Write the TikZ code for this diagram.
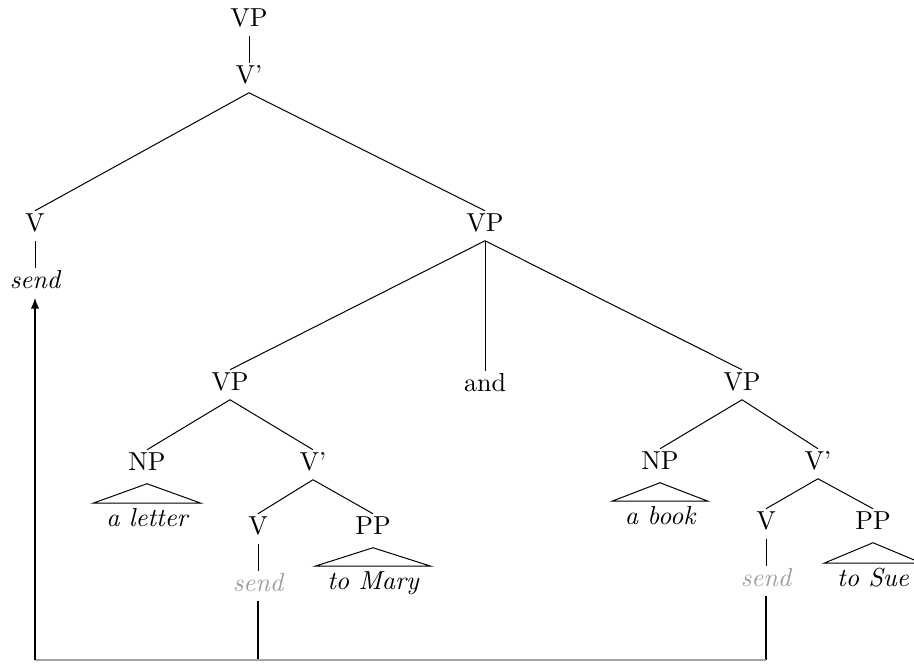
\documentclass[tikz,border=0pt]{standalone}
\usetikzlibrary{arrows.meta}
\begin{document}
\begin{tikzpicture}[x=0.4pt,y=-0.4pt,
  every node/.style={anchor=base,inner sep=1pt,outer sep=0pt,text height=0.75em,text depth=0.25em,font=\fontsize{10.4}{12}\selectfont},
  cat/.style={},
  word/.style={font=\fontsize{10.4}{12}\selectfont\itshape},
  trace/.style={word,text=black!38},
  edge/.style={draw=black,line width=0.4pt},
  tri/.style={draw=black,line width=0.4pt},
  move/.style={draw=black,line width=0.6pt},
  bar/.style={draw=black!75,double=black!35,line width=0.3pt,double distance=0.5pt}]
\useasboundingbox (0,0) rectangle (914,664);
% nodes
\node[cat] (vp0) at (249,27) {VP};
\node[cat] (vb0) at (249,84) {V'};
\node[cat] (v0) at (35,232) {V};
\node[word] (send0) at (35,289) {send};
\node[cat] (vp1) at (485,232) {VP};
\node[cat] (vp2) at (230,391) {VP};
\node[cat] (and) at (485,392) {and};
\node[cat] (vp3) at (742,391) {VP};
\node[cat] (np1) at (147,471) {NP};
\node[word] (al) at (147,527) {a letter};
\node[cat] (vb1) at (313,471) {V'};
\node[cat] (v1) at (258,535) {V};
\node[trace] (send1) at (258,592) {send};
\node[cat] (pp1) at (373,535) {PP};
\node[word] (tm) at (373,590) {to Mary};
\node[cat] (np2) at (660,470) {NP};
\node[word] (ab) at (660,525) {a book};
\node[cat] (vb2) at (818,470) {V'};
\node[cat] (v2) at (766,530) {V};
\node[trace] (send2) at (766,587) {send};
\node[cat] (pp2) at (873,530) {PP};
\node[word] (ts) at (873,587) {to Sue};
% edges
\path[edge] (vp0.south) -- (vb0.north);
\path[edge] (vb0.south) -- (v0.north);
\path[edge] (vb0.south) -- (vp1.north);
\path[edge] (v0.south) -- (send0.north);
\path[edge] (vp1.south) -- (vp2.north);
\path[edge] (vp1.south) -- (and.north);
\path[edge] (vp1.south) -- (vp3.north);
\path[edge] (vp2.south) -- (np1.north);
\path[edge] (vp2.south) -- (vb1.north);
\path[edge] (vb1.south) -- (v1.north);
\path[edge] (vb1.south) -- (pp1.north);
\path[edge] (v1.south) -- (send1.north);
\path[edge] (vp3.south) -- (np2.north);
\path[edge] (vp3.south) -- (vb2.north);
\path[edge] (vb2.south) -- (v2.north);
\path[edge] (vb2.south) -- (pp2.north);
\path[edge] (v2.south) -- (send2.north);
% triangles
\path[tri] ([yshift=-1.6pt]np1.south) -- ([xshift=-21.6pt,yshift=1pt]al.north) -- ([xshift=21.6pt,yshift=1pt]al.north) -- cycle;
\path[tri] ([yshift=-1.6pt]pp1.south) -- ([xshift=-23.2pt,yshift=1pt]tm.north) -- ([xshift=23.2pt,yshift=1pt]tm.north) -- cycle;
\path[tri] ([yshift=-1.6pt]np2.south) -- ([xshift=-19.2pt,yshift=1pt]ab.north) -- ([xshift=19.2pt,yshift=1pt]ab.north) -- cycle;
\path[tri] ([yshift=-1.6pt]pp2.south) -- ([xshift=-19.6pt,yshift=1pt]ts.north) -- ([xshift=19.6pt,yshift=1pt]ts.north) -- cycle;
% movement
\coordinate (c0) at (35,660);
\coordinate (c1) at (258,660);
\coordinate (c2) at (766,660);
\path[move] (send1.south) -- (c1);
\path[move] (send2.south) -- (c2);
\path[bar] (c0) -- (c2);
\path[move,-{Latex[length=4.4pt,width=3.4pt]}] (c0) -- (send0.south);
\end{tikzpicture}
\end{document}
